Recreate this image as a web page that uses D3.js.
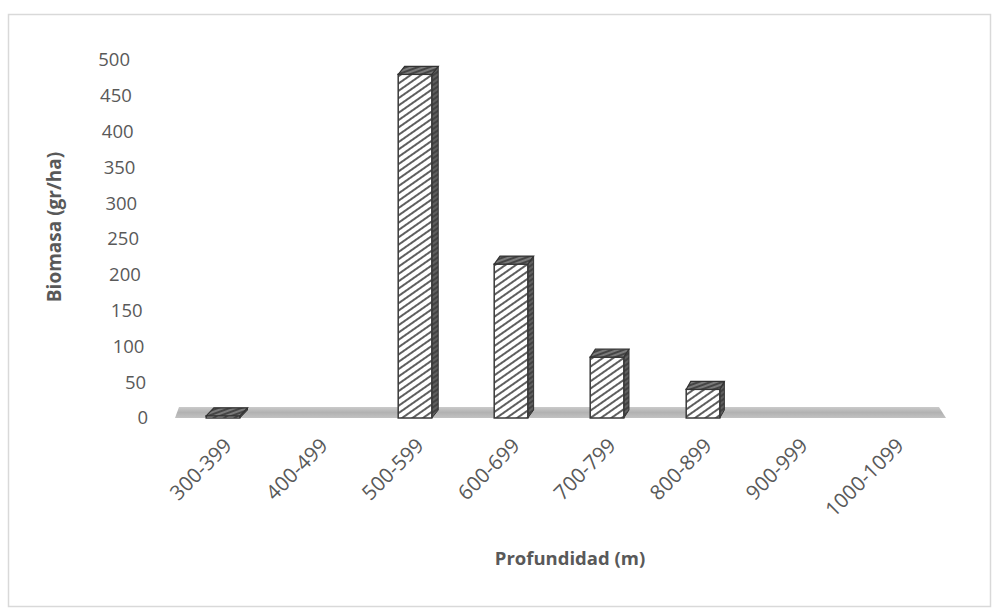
<!DOCTYPE html>
<html>
<head>
<meta charset="utf-8">
<script src="https://cdn.jsdelivr.net/npm/d3@7"></script>
<style>
  html, body { margin: 0; padding: 0; background: #fff; }
  svg { display: block; }
</style>
</head>
<body>
<script>
// Biomass by depth range
const categories = ["300-399", "400-499", "500-599", "600-699", "700-799", "800-899", "900-999", "1000-1099"];
const values = [3, 0, 480, 215, 85, 40, 0, 0];
const yTicks = [0, 50, 100, 150, 200, 250, 300, 350, 400, 450, 500];
const yTitle = "Biomasa (gr/ha)";
const xTitle = "Profundidad (m)";

const W = 996, H = 610;
const svg = d3.select("body").append("svg").attr("width", W).attr("height", H);

// outer chart frame
svg.append("rect").attr("x", 8.5).attr("y", 14.5).attr("width", 982).attr("height", 592)
  .attr("fill", "#fff").attr("stroke", "#d9d9d9").attr("stroke-width", 1.5);

const x = d3.scaleBand().domain(categories).range([175, 943]).paddingInner(0.65).paddingOuter(0.325);
const y = d3.scaleLinear().domain([0, 500]).range([418, 60]);

// hatch patterns
const defs = svg.append("defs");
function hatch(id, bg, line, gap, w, angle) {
  const p = defs.append("pattern").attr("id", id).attr("patternUnits", "userSpaceOnUse")
    .attr("width", gap).attr("height", gap).attr("patternTransform", `rotate(${angle})`);
  p.append("rect").attr("width", gap).attr("height", gap).attr("fill", bg);
  p.append("line").attr("x1", 0).attr("y1", gap / 2).attr("x2", gap).attr("y2", gap / 2)
    .attr("stroke", line).attr("stroke-width", w);
}
hatch("hFront", "#ffffff", "#4d4d4d", 6, 1.8, -35);
hatch("hTop", "#7a7a7a", "#333333", 4, 1.5, -20);
hatch("hSide", "#5f5f5f", "#2e2e2e", 4, 1.2, -35);

// floor slab
const floorG = defs.append("linearGradient").attr("id", "floorGrad").attr("x1", 0).attr("y1", 0).attr("x2", 0).attr("y2", 1);
floorG.append("stop").attr("offset", "0").attr("stop-color", "#cacaca");
floorG.append("stop").attr("offset", "0.5").attr("stop-color", "#b2b2b2");
floorG.append("stop").attr("offset", "1").attr("stop-color", "#c2c2c2");
const fl = x.range()[0], fr = x.range()[1];
svg.append("path")
  .attr("d", `M${fl},${y(0)} L${fr + 3},${y(0)} L${fr - 4},${y(0) - 11} L${fl + 4},${y(0) - 11} Z`)
  .attr("fill", "url(#floorGrad)");

// y tick labels, following the slanted back wall
const tickX = v => 148 - (y(0) - y(v)) * 18 / 358;
svg.append("g").selectAll("text").data(yTicks).join("text")
  .attr("x", d => tickX(d)).attr("y", d => y(d))
  .attr("dy", "0.35em").attr("text-anchor", "end")
  .attr("font-family", "'Open Sans', sans-serif").attr("font-size", 18.5)
  .attr("fill", "#595959").text(d => d);

// 3D bars
const dy = -8;
const dxOf = cx => 8 - (cx - x.range()[0]) / (x.range()[1] - x.range()[0]) * 5;
const bars = svg.append("g");
categories.forEach((c, i) => {
  const v = values[i];
  if (!v) return;
  const x0 = x(c), x1 = x0 + x.bandwidth();
  const dx = dxOf(x0 + x.bandwidth() / 2);
  const yb = y(0), yt = y(v);
  const g = bars.append("g");
  // right side face
  g.append("path").attr("d", `M${x1},${yb} L${x1},${yt} L${x1 + dx},${yt + dy} L${x1 + dx},${yb + dy} Z`)
    .attr("fill", "url(#hSide)").attr("stroke", "#333", "stroke-width", 1);
  // front face
  g.append("rect").attr("x", x0).attr("y", yt).attr("width", x1 - x0).attr("height", yb - yt)
    .attr("fill", "url(#hFront)").attr("stroke", "#3a3a3a").attr("stroke-width", 1.5);
  // top face
  g.append("path").attr("d", `M${x0},${yt} L${x1},${yt} L${x1 + dx},${yt + dy} L${x0 + dx},${yt + dy} Z`)
    .attr("fill", "url(#hTop)").attr("stroke", "#333").attr("stroke-width", 1.2);
});

// x category labels
svg.append("g").selectAll("text").data(categories).join("text")
  .attr("transform", d => `translate(${x(d) + x.bandwidth() / 2 + 10},${447}) rotate(-45)`)
  .attr("text-anchor", "end")
  .attr("font-family", "'Open Sans', sans-serif").attr("font-size", 20.5)
  .attr("fill", "#595959").text(d => d);

// axis titles
svg.append("text").attr("transform", `translate(61,227) rotate(-90)`)
  .attr("text-anchor", "middle")
  .attr("font-family", "'Open Sans', sans-serif").attr("font-weight", "bold").attr("font-size", 19)
  .attr("fill", "#595959").text(yTitle);
svg.append("text").attr("x", 570).attr("y", 565)
  .attr("text-anchor", "middle")
  .attr("font-family", "'Open Sans', sans-serif").attr("font-weight", "bold").attr("font-size", 18.5)
  .attr("fill", "#595959").text(xTitle);
</script>
</body>
</html>
